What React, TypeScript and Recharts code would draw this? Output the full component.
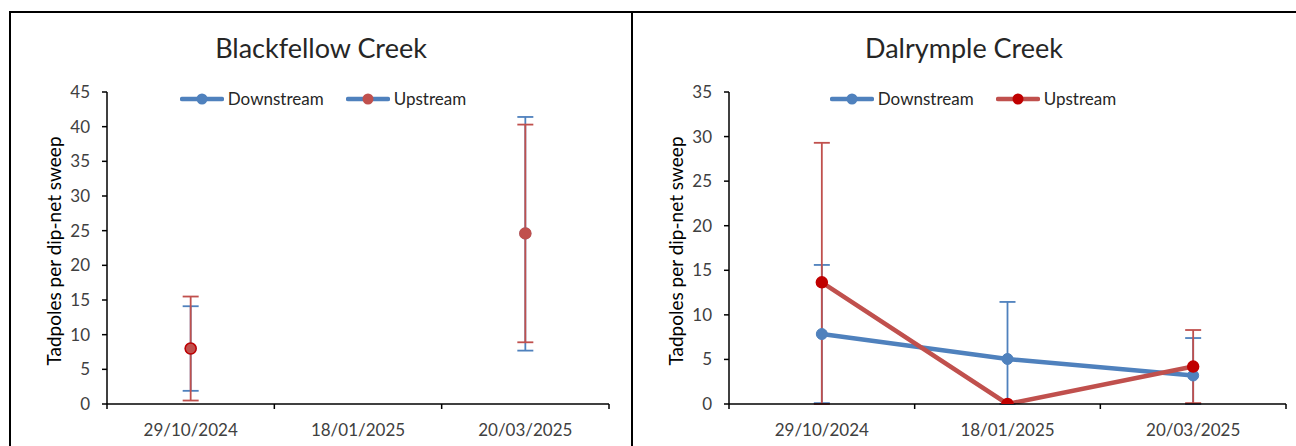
import { LineChart, Line, XAxis, YAxis, ErrorBar } from 'recharts';

// sampling dates (shared by both creeks)
const DATES = ['29/10/2024', '18/01/2025', '20/03/2025'];

// Blackfellow Creek: mean and error bar bounds (null = not sampled)
const BF_DOWN = [8.0, null, 24.6];
const BF_DOWN_LOW = [1.9, null, 7.7];
const BF_DOWN_HIGH = [14.1, null, 41.4];
const BF_UP = [8.0, null, 24.6];
const BF_UP_LOW = [0.5, null, 8.9];
const BF_UP_HIGH = [15.5, null, 40.3];
const BF_TICKS = [0, 5, 10, 15, 20, 25, 30, 35, 40, 45];

// Dalrymple Creek
const DC_DOWN = [7.85, 5.05, 3.2];
const DC_DOWN_LOW = [0.1, 0, 0];
const DC_DOWN_HIGH = [15.6, 11.45, 7.4];
const DC_UP = [13.65, 0, 4.2];
const DC_UP_LOW = [0, null, 0.1];
const DC_UP_HIGH = [29.3, null, 8.3];
const DC_TICKS = [0, 5, 10, 15, 20, 25, 30, 35];

const BLUE = '#4F81BD';
const RED = '#C0504D';
const DARK_RED = '#C00000';
const TEXT = '#404040';
const FONT = 'Lato, "Open Sans", sans-serif';

type Num = number | null;

function errOf(v: Num, lo: Num, hi: Num) {
  if (v == null || lo == null || hi == null) return null;
  return [v - lo, hi - v];
}

function buildRows(down: Num[], downLo: Num[], downHi: Num[], up: Num[], upLo: Num[], upHi: Num[]) {
  return DATES.map((date, i) => ({
    date,
    down: down[i],
    up: up[i],
    downErr: errOf(down[i], downLo[i], downHi[i]),
    upErr: errOf(up[i], upLo[i], upHi[i]),
  }));
}

const BF_ROWS = buildRows(BF_DOWN, BF_DOWN_LOW, BF_DOWN_HIGH, BF_UP, BF_UP_LOW, BF_UP_HIGH);
const DC_ROWS = buildRows(DC_DOWN, DC_DOWN_LOW, DC_DOWN_HIGH, DC_UP, DC_UP_LOW, DC_UP_HIGH);

const CHART_H = 434;
const PLOT_TOP = 80;
const Y_AXIS_W = 97;
const X_AXIS_H = 42;

function DateTick(props: any) {
  const { x, y, payload, index, half } = props;
  return (
    <g>
      <line x1={x - half} x2={x - half} y1={y} y2={y + 5} stroke="#000" strokeWidth={1.5} />
      {index === DATES.length - 1 && (
        <line x1={x + half} x2={x + half} y1={y} y2={y + 5} stroke="#000" strokeWidth={1.5} />
      )}
      <text x={x} y={y + 32} textAnchor="middle" fill={TEXT} fontSize={17} fontFamily={FONT}>
        {payload.value}
      </text>
    </g>
  );
}

function LegendIcon({ line, dot }: { line: string; dot: string }) {
  return (
    <svg width={44} height={14} style={{ display: 'block' }}>
      <line x1={2} x2={42} y1={7} y2={7} stroke={line} strokeWidth={4.5} strokeLinecap="round" />
      <circle cx={22} cy={7} r={5.5} fill={dot} />
    </svg>
  );
}

interface PanelProps {
  title: string;
  rows: any[];
  ticks: number[];
  left: number;
  width: number;
  marginRight: number;
  legendShift: number;
  upLine: string;
  upDot: string;
  firstUpRing?: string;
}

function Panel({ title, rows, ticks, left, width, marginRight, legendShift, upLine, upDot, firstUpRing }: PanelProps) {
  const plotW = width - Y_AXIS_W - marginRight;
  const half = plotW / DATES.length / 2;
  const yMax = ticks[ticks.length - 1];

  return (
    <div style={{ position: 'absolute', left, top: 12, width, height: CHART_H }}>
      <div
        style={{
          position: 'absolute',
          left: 0,
          top: 20,
          width,
          textAlign: 'center',
          fontFamily: FONT,
          fontSize: 27,
          color: '#262626',
          lineHeight: '32px',
        }}
      >
        {title}
      </div>
      <div
        style={{
          position: 'absolute',
          left: legendShift,
          top: 76,
          width,
          display: 'flex',
          justifyContent: 'center',
          alignItems: 'center',
          gap: 22,
          fontFamily: FONT,
          fontSize: 17,
          color: '#262626',
          zIndex: 2,
        }}
      >
        <div style={{ display: 'flex', alignItems: 'center', gap: 4 }}>
          <LegendIcon line={BLUE} dot={BLUE} />
          <span>Downstream</span>
        </div>
        <div style={{ display: 'flex', alignItems: 'center', gap: 4 }}>
          <LegendIcon line={upLine} dot={upDot} />
          <span>Upstream</span>
        </div>
      </div>
      <LineChart
        width={width}
        height={CHART_H}
        data={rows}
        margin={{ top: PLOT_TOP, right: marginRight, bottom: 0, left: 0 }}
      >
        <XAxis
          dataKey="date"
          height={X_AXIS_H}
          padding={{ left: half, right: half }}
          axisLine={{ stroke: '#000', strokeWidth: 1.5 }}
          tickLine={false}
          tickSize={0}
          tickMargin={0}
          interval={0}
          tick={(p: any) => <DateTick {...p} half={half} />}
        />
        <YAxis
          width={Y_AXIS_W}
          domain={[0, yMax]}
          ticks={ticks}
          interval={0}
          allowDataOverflow
          axisLine={{ stroke: '#000', strokeWidth: 1.5 }}
          tickLine={{ stroke: '#000', strokeWidth: 1.5 }}
          tickSize={5}
          tickMargin={12}
          tick={{ fill: TEXT, fontSize: 17, fontFamily: FONT }}
          label={{
            content: (p: any) => {
              const vb = p.viewBox;
              return (
                <text
                  transform={`translate(${vb.x + 43}, ${vb.y + vb.height / 2 + 3}) rotate(-90)`}
                  textAnchor="middle"
                  dominantBaseline="central"
                  fill="#000"
                  fontSize={19}
                  fontFamily={FONT}
                >
                  Tadpoles per dip-net sweep
                </text>
              );
            },
          }}
        />
        <Line
          dataKey="down"
          name="Downstream"
          stroke={BLUE}
          strokeWidth={4.5}
          isAnimationActive={false}
          dot={{ r: 5.5, fill: BLUE, stroke: BLUE, strokeWidth: 1 }}
          activeDot={false}
        >
          <ErrorBar dataKey="downErr" width={8} stroke={BLUE} strokeWidth={1.8} direction="y" />
        </Line>
        <Line
          dataKey="up"
          name="Upstream"
          stroke={upLine}
          strokeWidth={4.5}
          isAnimationActive={false}
          activeDot={false}
          dot={(p: any) => {
            if (p.cx == null || p.cy == null || p.value == null) return <g key={`d${p.index}`} />;
            const ring = p.index === 0 && firstUpRing ? firstUpRing : upDot;
            return (
              <circle key={`d${p.index}`} cx={p.cx} cy={p.cy} r={5.5} fill={upDot} stroke={ring} strokeWidth={1.5} />
            );
          }}
        >
          <ErrorBar dataKey="upErr" width={8} stroke={RED} strokeWidth={1.8} direction="y" />
        </Line>
      </LineChart>
    </div>
  );
}

export default function App() {
  return (
    <div style={{ position: 'absolute', left: 0, top: 0, width: 1296, height: 446, overflow: 'hidden', background: '#fff' }}>
      <Panel
        title="Blackfellow Creek"
        rows={BF_ROWS}
        ticks={BF_TICKS}
        left={10}
        width={622}
        marginRight={23}
        legendShift={2}
        upLine={BLUE}
        upDot={RED}
        firstUpRing={DARK_RED}
      />
      <Panel
        title="Dalrymple Creek"
        rows={DC_ROWS}
        ticks={DC_TICKS}
        left={632}
        width={664}
        marginRight={10}
        legendShift={9}
        upLine={RED}
        upDot={DARK_RED}
      />
      <div style={{ position: 'absolute', left: 9, top: 11, width: 1296, height: 2, background: '#000' }} />
      <div style={{ position: 'absolute', left: 9, top: 11, width: 2, height: 446, background: '#000' }} />
      <div style={{ position: 'absolute', left: 631, top: 11, width: 2, height: 446, background: '#000' }} />
    </div>
  );
}
